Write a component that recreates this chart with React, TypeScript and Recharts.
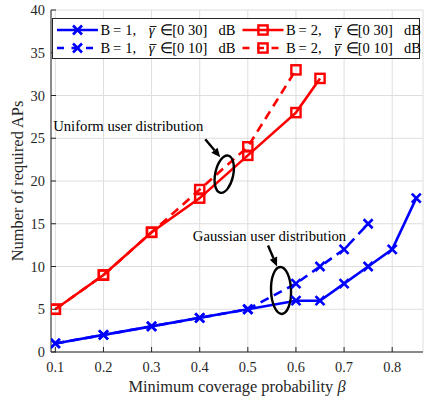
import React from "react";
import {
  CartesianGrid,
  Legend,
  Line,
  LineChart,
  ReferenceDot,
  XAxis,
  YAxis,
} from "recharts";

// axis ticks
const xTicks = [0.1, 0.2, 0.3, 0.4, 0.5, 0.6, 0.7, 0.8];
const yTicks = [0, 5, 10, 15, 20, 25, 30, 35, 40];

// B = 1, gamma in [0 30] dB
const betaB1Wide = [0.1, 0.2, 0.3, 0.4, 0.5, 0.6, 0.65, 0.7, 0.75, 0.8, 0.85];
const apsB1Wide = [1, 2, 3, 4, 5, 6, 6, 8, 10, 12, 18];
// B = 1, gamma in [0 10] dB
const betaB1Narrow = [0.1, 0.2, 0.3, 0.4, 0.5, 0.6, 0.65, 0.7, 0.75];
const apsB1Narrow = [1, 2, 3, 4, 5, 8, 10, 12, 15];
// B = 2, gamma in [0 30] dB
const betaB2Wide = [0.1, 0.2, 0.3, 0.4, 0.5, 0.6, 0.65];
const apsB2Wide = [5, 9, 14, 18, 23, 28, 32];
// B = 2, gamma in [0 10] dB
const betaB2Narrow = [0.1, 0.2, 0.3, 0.4, 0.5, 0.6];
const apsB2Narrow = [5, 9, 14, 19, 24, 33];

const toPoints = (xs: number[], ys: number[]) =>
  xs.map((x, i) => ({ x, y: ys[i] }));

const BLUE = "#0000ff";
const RED = "#ff0000";
const FONT = "Liberation Serif";
const INK = "#262626";
const DASH = "9 6";

const series = [
  { key: "b1w", bVal: 1, range: "30", color: BLUE, dashed: false, marker: "x", data: toPoints(betaB1Wide, apsB1Wide) },
  { key: "b1n", bVal: 1, range: "10", color: BLUE, dashed: true, marker: "x", data: toPoints(betaB1Narrow, apsB1Narrow) },
  { key: "b2w", bVal: 2, range: "30", color: RED, dashed: false, marker: "sq", data: toPoints(betaB2Wide, apsB2Wide) },
  { key: "b2n", bVal: 2, range: "10", color: RED, dashed: true, marker: "sq", data: toPoints(betaB2Narrow, apsB2Narrow) },
];

const Marker = ({ cx, cy, color, type }: any) => {
  if (cx == null || cy == null) return null;
  if (type === "x") {
    const s = 4.5;
    return (
      <g stroke={color} strokeWidth={2.6}>
        <line x1={cx - s} y1={cy - s} x2={cx + s} y2={cy + s} />
        <line x1={cx - s} y1={cy + s} x2={cx + s} y2={cy - s} />
      </g>
    );
  }
  const h = 4.6;
  return (
    <rect
      x={cx - h}
      y={cy - h}
      width={2 * h}
      height={2 * h}
      fill="none"
      stroke={color}
      strokeWidth={2.4}
    />
  );
};

// "B = 1, γ̄ ∈ [0 30] dB" laid out with latex-like spacing
const LegendLabel = ({ x, y, bVal, range }: any) => (
  <g fontFamily={FONT} fontSize={14.5} fill="#000">
    <text x={x} y={y}>B</text>
    <text x={x + 12.4} y={y}>=</text>
    <text x={x + 24.7} y={y}>{`${bVal},`}</text>
    <text x={x + 48.2} y={y} fontStyle="italic">γ</text>
    <line x1={x + 49.2} x2={x + 56} y1={y - 8.5} y2={y - 8.5} stroke="#000" strokeWidth={0.9} />
    <text x={x + 59.5} y={y}>∈</text>
    <text x={x + 71.7} y={y} xmlSpace="preserve">{`[0 ${range}]`}</text>
    <text x={x + 118} y={y}>dB</text>
  </g>
);

// legend drawn as two columns, like the matlab one
const renderLegend = () => {
  const cols = [4, 189.5];
  const rows = [11, 29];
  return (
    <div
      style={{
        position: "relative",
        border: `1px solid ${INK}`,
        background: "#fff",
        width: 366,
        height: 39,
        boxSizing: "content-box",
        overflow: "visible",
      }}
    >
      <svg
        width={366}
        height={39}
        overflow="visible"
        style={{ display: "block", position: "absolute", left: 0, top: 0 }}
      >
        {series.map((s) => {
          const x0 = cols[s.bVal - 1];
          const y0 = rows[s.dashed ? 1 : 0];
          return (
            <g key={s.key}>
              <line
                x1={x0}
                x2={x0 + 41}
                y1={y0}
                y2={y0}
                stroke={s.color}
                strokeWidth={2.6}
                strokeDasharray={s.dashed ? "7 7.5" : undefined}
              />
              <Marker cx={x0 + 20.5} cy={y0} color={s.color} type={s.marker} />
              <LegendLabel x={x0 + 43.5} y={y0 + 5} bVal={s.bVal} range={s.range} />
            </g>
          );
        })}
      </svg>
    </div>
  );
};

const Arrow = ({ x1, y1, x2, y2 }: any) => {
  const a = Math.atan2(y2 - y1, x2 - x1);
  const len = 9;
  const w = 4;
  const bx = x2 - len * Math.cos(a);
  const by = y2 - len * Math.sin(a);
  const px = -Math.sin(a) * w;
  const py = Math.cos(a) * w;
  return (
    <g>
      <line x1={x1} y1={y1} x2={bx} y2={by} stroke="#000" strokeWidth={2.4} />
      <polygon
        points={`${x2},${y2} ${bx + px},${by + py} ${bx - px},${by - py}`}
        fill="#000"
      />
    </g>
  );
};

// ellipse callout placed at a data point through ReferenceDot
const Callout = ({ cx, cy, rx, ry, rot, text, tx, ty, ax, ay, bx, by }: any) => {
  if (cx == null) return null;
  return (
    <g>
      <ellipse
        cx={cx}
        cy={cy}
        rx={rx}
        ry={ry}
        fill="none"
        stroke="#000"
        strokeWidth={2.4}
        transform={`rotate(${rot} ${cx} ${cy})`}
      />
      <Arrow x1={cx + ax} y1={cy + ay} x2={cx + bx} y2={cy + by} />
      <text
        x={cx + tx}
        y={cy + ty}
        textAnchor="middle"
        fontFamily={FONT}
        fontSize={14.7}
        fill="#000"
      >
        {text}
      </text>
    </g>
  );
};

const XTick = ({ x, y, payload }: any) => (
  <text x={x} y={y + 9} textAnchor="middle" fontFamily={FONT} fontSize={14.4} fill={INK}>
    {payload.value}
  </text>
);

const YTick = ({ x, y, payload }: any) => (
  <text x={x} y={y + 5} textAnchor="end" fontFamily={FONT} fontSize={14.4} fill={INK}>
    {payload.value}
  </text>
);

export default function App() {
  return (
    <div style={{ width: 424, height: 399, background: "#fff" }}>
      <style>{"body{margin:0}"}</style>
      <LineChart
        width={424}
        height={399}
        margin={{ top: 10, right: 1, bottom: 0, left: 0 }}
      >
        <CartesianGrid stroke="#dedede" strokeWidth={1} />
        <XAxis
          type="number"
          dataKey="x"
          domain={[0.091, 0.864]}
          ticks={xTicks}
          allowDataOverflow
          height={47}
          stroke={INK}
          tickSize={-5}
          tickMargin={16}
          tick={<XTick />}
          label={{
            content: (p: any) => {
              const vb = p.viewBox;
              return (
                <text
                  x={vb.x + vb.width / 2}
                  y={vb.y + 39.5}
                  textAnchor="middle"
                  fontFamily={FONT}
                  fontSize={16.4}
                  fill={INK}
                >
                  Minimum coverage probability <tspan fontStyle="italic">β</tspan>
                </text>
              );
            },
          }}
        />
        <XAxis
          xAxisId="top"
          orientation="top"
          type="number"
          dataKey="x"
          domain={[0.091, 0.864]}
          ticks={xTicks}
          allowDataOverflow
          height={0}
          stroke={INK}
          tickSize={-5}
          tick={false}
        />
        <YAxis
          type="number"
          domain={[0, 40]}
          ticks={yTicks}
          width={51}
          stroke={INK}
          tickSize={-5}
          tickMargin={11}
          tick={<YTick />}
          label={{
            content: (p: any) => {
              const vb = p.viewBox;
              const cx = 17;
              const cy = vb.y + vb.height / 2;
              return (
                <text
                  x={cx}
                  y={cy}
                  textAnchor="middle"
                  dominantBaseline="central"
                  transform={`rotate(-90 ${cx} ${cy})`}
                  fontFamily={FONT}
                  fontSize={16.4}
                  fill={INK}
                >
                  Number of required APs
                </text>
              );
            },
          }}
        />
        <YAxis
          yAxisId="right"
          orientation="right"
          type="number"
          domain={[0, 40]}
          ticks={yTicks}
          width={0}
          stroke={INK}
          tickSize={-5}
          tick={false}
        />
        {series.map((s) => (
          <Line
            key={s.key}
            data={s.data}
            dataKey="y"
            type="linear"
            stroke={s.color}
            strokeWidth={2.6}
            strokeDasharray={s.dashed ? DASH : undefined}
            dot={(p: any) => (
              <Marker
                key={`${s.key}-${p.index}`}
                cx={p.cx}
                cy={p.cy}
                color={s.color}
                type={s.marker}
              />
            )}
            activeDot={false}
            isAnimationActive={false}
          />
        ))}
        <ReferenceDot
          x={0.451}
          y={20.8}
          r={0}
          shape={(p: any) => (
            <Callout
              cx={p.cx}
              cy={p.cy}
              rx={9}
              ry={19}
              rot={12}
              text="Uniform user distribution"
              tx={-96}
              ty={-43}
              ax={-19}
              ay={-35}
              bx={-4}
              by={-17}
            />
          )}
        />
        <ReferenceDot
          x={0.569}
          y={7.2}
          r={0}
          shape={(p: any) => (
            <Callout
              cx={p.cx}
              cy={p.cy}
              rx={10}
              ry={23.5}
              rot={-2}
              text="Gaussian user distribution"
              tx={-11.5}
              ty={-49.5}
              ax={-13}
              ay={-45}
              bx={-4}
              by={-24}
            />
          )}
        />
        <Legend
          layout="horizontal"
          verticalAlign="middle"
          align="center"
          content={renderLegend}
          wrapperStyle={{ left: 52, top: 18, width: 368, height: 41, overflow: "visible" }}
        />
      </LineChart>
    </div>
  );
}
